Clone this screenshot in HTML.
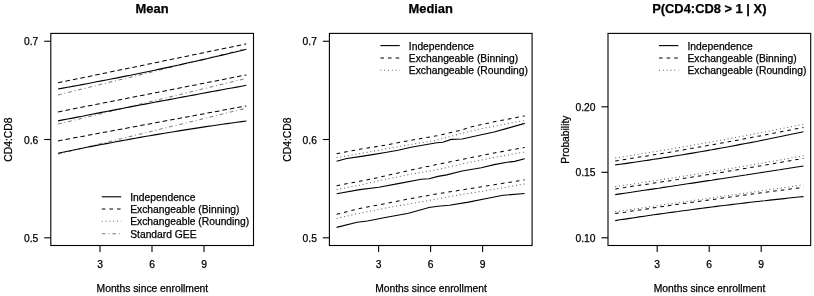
<!DOCTYPE html>
<html lang="en"><head><meta charset="utf-8"><title>Figure</title>
<style>html,body{margin:0;padding:0;background:#fff;}svg{display:block;}text{stroke:#000;stroke-width:.25px;}</style>
</head><body>
<svg width="814" height="296" viewBox="0 0 814 296" font-family="'Liberation Sans', Arial, Helvetica, sans-serif" font-size="10.3" fill="#000">
<rect width="814" height="296" fill="#fff"/>
<rect x="50.80" y="33.4" width="202.70" height="212.10" fill="none" stroke="#000" stroke-width="1.1"/>
<line x1="100.0" y1="245.5" x2="100.0" y2="252.10" stroke="#000" stroke-width="1.1"/>
<text x="100.0" y="267.8" text-anchor="middle">3</text>
<line x1="152.0" y1="245.5" x2="152.0" y2="252.10" stroke="#000" stroke-width="1.1"/>
<text x="152.0" y="267.8" text-anchor="middle">6</text>
<line x1="204.0" y1="245.5" x2="204.0" y2="252.10" stroke="#000" stroke-width="1.1"/>
<text x="204.0" y="267.8" text-anchor="middle">9</text>
<line x1="44.2" y1="41.25" x2="50.8" y2="41.25" stroke="#000" stroke-width="1.1"/>
<text x="38.3" y="45.2" text-anchor="end">0.7</text>
<line x1="44.2" y1="139.5" x2="50.8" y2="139.5" stroke="#000" stroke-width="1.1"/>
<text x="38.3" y="143.5" text-anchor="end">0.6</text>
<line x1="44.2" y1="237.8" x2="50.8" y2="237.8" stroke="#000" stroke-width="1.1"/>
<text x="38.3" y="241.8" text-anchor="end">0.5</text>
<text x="152.4" y="292.3" text-anchor="middle">Months since enrollment</text>
<text transform="translate(12.2,139.6) rotate(-90)" text-anchor="middle">CD4:CD8</text>
<text x="152.1" y="13" text-anchor="middle" font-weight="bold" font-size="12.9" stroke="none">Mean</text>
<polyline points="101.8,196.8 121.2,196.8" fill="none" stroke="#000" stroke-width="1.12"/>
<text x="130.2" y="200.8">Independence</text>
<polyline points="101.8,209.1 121.2,209.1" fill="none" stroke="#000" stroke-width="1.02" stroke-dasharray="3.6 4"/>
<text x="130.2" y="213.2">Exchangeable (Binning)</text>
<polyline points="101.8,221.3 121.2,221.3" fill="none" stroke="#606060" stroke-width="1.05" stroke-dasharray="1 2.8"/>
<text x="130.2" y="225.4">Exchangeable (Rounding)</text>
<polyline points="101.8,233.7 121.2,233.7" fill="none" stroke="#808080" stroke-width="1.05" stroke-dasharray="3.8 2.8 1 2.8"/>
<text x="130.2" y="237.8">Standard GEE</text>
<polyline points="58.0,94.9 246.3,48.8" fill="none" stroke="#808080" stroke-width="1.05" stroke-dasharray="3.8 2.8 1 2.8"/>
<polyline points="58.0,82.8 246.3,43.9" fill="none" stroke="#000" stroke-width="1.02" stroke-dasharray="4.6 3"/>
<polyline points="58.0,89.0 62.8,88.1 67.7,87.2 72.5,86.4 77.3,85.5 82.2,84.6 87.0,83.7 91.8,82.8 96.6,81.8 101.5,80.9 106.3,80.0 111.1,79.0 116.0,78.1 120.8,77.1 125.6,76.1 130.5,75.2 135.3,74.2 140.1,73.2 145.0,72.2 149.8,71.2 154.6,70.2 159.4,69.1 164.3,68.1 169.1,67.1 173.9,66.0 178.8,65.0 183.6,63.9 188.4,62.8 193.3,61.7 198.1,60.7 202.9,59.6 207.8,58.5 212.6,57.3 217.4,56.2 222.2,55.1 227.1,54.0 231.9,52.8 236.7,51.7 241.6,50.5 246.4,49.3" fill="none" stroke="#000" stroke-width="1.12"/>
<polyline points="58.0,124.1 246.3,78.4" fill="none" stroke="#808080" stroke-width="1.05" stroke-dasharray="3.8 2.8 1 2.8"/>
<polyline points="58.0,111.9 246.3,74.9" fill="none" stroke="#000" stroke-width="1.02" stroke-dasharray="4.6 3"/>
<polyline points="58.0,120.9 62.8,119.9 67.7,119.0 72.5,118.1 77.3,117.1 82.2,116.2 87.0,115.2 91.8,114.3 96.6,113.4 101.5,112.4 106.3,111.5 111.1,110.6 116.0,109.6 120.8,108.7 125.6,107.8 130.5,106.9 135.3,105.9 140.1,105.0 145.0,104.1 149.8,103.2 154.6,102.3 159.4,101.4 164.3,100.5 169.1,99.6 173.9,98.7 178.8,97.8 183.6,96.9 188.4,96.0 193.3,95.1 198.1,94.2 202.9,93.3 207.8,92.4 212.6,91.5 217.4,90.6 222.2,89.7 227.1,88.8 231.9,88.0 236.7,87.1 241.6,86.2 246.4,85.3" fill="none" stroke="#000" stroke-width="1.12"/>
<polyline points="58.0,154.1 246.3,108.2" fill="none" stroke="#808080" stroke-width="1.05" stroke-dasharray="3.8 2.8 1 2.8"/>
<polyline points="58.0,140.9 246.3,105.9" fill="none" stroke="#000" stroke-width="1.02" stroke-dasharray="4.6 3"/>
<polyline points="58.0,153.2 62.8,152.2 67.7,151.2 72.5,150.2 77.3,149.3 82.2,148.3 87.0,147.3 91.8,146.4 96.6,145.4 101.5,144.5 106.3,143.6 111.1,142.7 116.0,141.8 120.8,140.9 125.6,140.0 130.5,139.1 135.3,138.2 140.1,137.4 145.0,136.5 149.8,135.7 154.6,134.9 159.4,134.1 164.3,133.3 169.1,132.5 173.9,131.7 178.8,130.9 183.6,130.1 188.4,129.4 193.3,128.6 198.1,127.9 202.9,127.1 207.8,126.4 212.6,125.7 217.4,125.0 222.2,124.3 227.1,123.6 231.9,123.0 236.7,122.3 241.6,121.6 246.4,121.0" fill="none" stroke="#000" stroke-width="1.12"/>
<rect x="329.40" y="33.4" width="202.70" height="212.10" fill="none" stroke="#000" stroke-width="1.1"/>
<line x1="378.6" y1="245.5" x2="378.6" y2="252.10" stroke="#000" stroke-width="1.1"/>
<text x="378.6" y="267.8" text-anchor="middle">3</text>
<line x1="430.6" y1="245.5" x2="430.6" y2="252.10" stroke="#000" stroke-width="1.1"/>
<text x="430.6" y="267.8" text-anchor="middle">6</text>
<line x1="482.6" y1="245.5" x2="482.6" y2="252.10" stroke="#000" stroke-width="1.1"/>
<text x="482.6" y="267.8" text-anchor="middle">9</text>
<line x1="322.8" y1="41.25" x2="329.4" y2="41.25" stroke="#000" stroke-width="1.1"/>
<text x="316.9" y="45.2" text-anchor="end">0.7</text>
<line x1="322.8" y1="139.5" x2="329.4" y2="139.5" stroke="#000" stroke-width="1.1"/>
<text x="316.9" y="143.5" text-anchor="end">0.6</text>
<line x1="322.8" y1="237.8" x2="329.4" y2="237.8" stroke="#000" stroke-width="1.1"/>
<text x="316.9" y="241.8" text-anchor="end">0.5</text>
<text x="431.0" y="292.3" text-anchor="middle">Months since enrollment</text>
<text transform="translate(290.8,139.6) rotate(-90)" text-anchor="middle">CD4:CD8</text>
<text x="430.7" y="13" text-anchor="middle" font-weight="bold" font-size="12.9" stroke="none">Median</text>
<polyline points="380.4,45.6 399.8,45.6" fill="none" stroke="#000" stroke-width="1.12"/>
<text x="408.8" y="49.7">Independence</text>
<polyline points="380.4,57.9 399.8,57.9" fill="none" stroke="#000" stroke-width="1.02" stroke-dasharray="3.6 4"/>
<text x="408.8" y="62.0">Exchangeable (Binning)</text>
<polyline points="380.4,70.2 399.8,70.2" fill="none" stroke="#606060" stroke-width="1.05" stroke-dasharray="1 2.8"/>
<text x="408.8" y="74.3">Exchangeable (Rounding)</text>
<polyline points="336.6,157.6 359.7,153.7 385.3,149.0 411.0,144.4 436.7,140.3 462.0,133.2 481.3,128.7 507.0,123.6 524.7,120.5" fill="none" stroke="#606060" stroke-width="1.05" stroke-dasharray="1 2.8"/>
<polyline points="336.6,153.7 359.7,149.3 385.3,145.1 411.0,140.3 436.7,135.8 462.0,130.0 468.5,127.5 494.2,121.7 524.7,116.0" fill="none" stroke="#000" stroke-width="1.02" stroke-dasharray="3.6 4"/>
<polyline points="336.6,161.2 346.8,158.5 359.7,156.6 372.5,154.6 385.3,152.5 398.2,150.2 411.0,147.3 423.9,145.0 436.7,142.8 442.8,142.2 451.2,139.4 462.1,139.0 481.3,134.8 494.2,132.0 507.0,128.4 524.7,123.4" fill="none" stroke="#000" stroke-width="1.12"/>
<polyline points="336.6,189.6 359.7,185.1 385.3,179.3 411.0,174.2 436.7,169.7 462.0,164.0 494.2,157.5 524.7,152.0" fill="none" stroke="#606060" stroke-width="1.05" stroke-dasharray="1 2.8"/>
<polyline points="336.6,185.7 359.7,181.3 378.9,177.4 398.2,172.9 421.3,167.8 436.7,164.6 462.0,159.5 494.2,153.0 524.7,147.4" fill="none" stroke="#000" stroke-width="1.02" stroke-dasharray="3.6 4"/>
<polyline points="336.6,193.7 359.7,189.6 378.9,187.3 398.2,183.6 421.3,179.3 429.0,178.7 438.0,176.4 446.7,174.9 462.1,171.0 481.3,167.8 494.2,164.6 507.0,162.3 514.7,161.4 524.7,158.8" fill="none" stroke="#000" stroke-width="1.12"/>
<polyline points="336.6,218.4 359.7,213.3 385.3,208.1 411.0,203.6 436.7,199.1 462.0,194.4 494.2,189.3 524.7,183.9" fill="none" stroke="#606060" stroke-width="1.05" stroke-dasharray="1 2.8"/>
<polyline points="336.6,214.3 359.7,208.4 385.3,203.6 411.0,198.5 436.7,194.0 462.0,189.9 494.2,184.8 524.7,179.8" fill="none" stroke="#000" stroke-width="1.02" stroke-dasharray="3.6 4"/>
<polyline points="336.6,227.4 357.1,222.2 367.4,221.0 385.3,217.5 408.5,213.3 429.0,207.5 438.0,206.2 449.3,205.3 468.5,202.1 487.8,198.2 503.2,195.3 524.7,193.5" fill="none" stroke="#000" stroke-width="1.12"/>
<rect x="608.00" y="33.4" width="202.70" height="212.10" fill="none" stroke="#000" stroke-width="1.1"/>
<line x1="657.2" y1="245.5" x2="657.2" y2="252.10" stroke="#000" stroke-width="1.1"/>
<text x="657.2" y="267.8" text-anchor="middle">3</text>
<line x1="709.2" y1="245.5" x2="709.2" y2="252.10" stroke="#000" stroke-width="1.1"/>
<text x="709.2" y="267.8" text-anchor="middle">6</text>
<line x1="761.2" y1="245.5" x2="761.2" y2="252.10" stroke="#000" stroke-width="1.1"/>
<text x="761.2" y="267.8" text-anchor="middle">9</text>
<line x1="601.4" y1="106.8" x2="608.0" y2="106.8" stroke="#000" stroke-width="1.1"/>
<text x="595.5" y="110.8" text-anchor="end">0.20</text>
<line x1="601.4" y1="172.3" x2="608.0" y2="172.3" stroke="#000" stroke-width="1.1"/>
<text x="595.5" y="176.3" text-anchor="end">0.15</text>
<line x1="601.4" y1="237.8" x2="608.0" y2="237.8" stroke="#000" stroke-width="1.1"/>
<text x="595.5" y="241.8" text-anchor="end">0.10</text>
<text x="709.6" y="292.3" text-anchor="middle">Months since enrollment</text>
<text transform="translate(569.4,139.6) rotate(-90)" text-anchor="middle">Probability</text>
<text x="709.3" y="13" text-anchor="middle" font-weight="bold" font-size="12.9" stroke="none">P(CD4:CD8 &gt; 1 | X)</text>
<polyline points="659.0,45.6 678.4,45.6" fill="none" stroke="#000" stroke-width="1.12"/>
<text x="687.4" y="49.7">Independence</text>
<polyline points="659.0,57.9 678.4,57.9" fill="none" stroke="#000" stroke-width="1.02" stroke-dasharray="3.6 4"/>
<text x="687.4" y="62.0">Exchangeable (Binning)</text>
<polyline points="659.0,70.2 678.4,70.2" fill="none" stroke="#606060" stroke-width="1.05" stroke-dasharray="1 2.8"/>
<text x="687.4" y="74.3">Exchangeable (Rounding)</text>
<polyline points="615.2,158.0 620.0,157.3 624.9,156.5 629.7,155.7 634.5,155.0 639.3,154.2 644.2,153.4 649.0,152.6 653.8,151.8 658.7,151.0 663.5,150.2 668.3,149.4 673.1,148.6 678.0,147.8 682.8,147.0 687.6,146.1 692.5,145.3 697.3,144.4 702.1,143.6 706.9,142.7 711.8,141.8 716.6,141.0 721.4,140.1 726.2,139.2 731.1,138.3 735.9,137.4 740.7,136.5 745.6,135.6 750.4,134.7 755.2,133.8 760.0,132.8 764.9,131.9 769.7,131.0 774.5,130.0 779.4,129.1 784.2,128.1 789.0,127.1 793.8,126.2 798.7,125.2 803.5,124.2" fill="none" stroke="#606060" stroke-width="1.05" stroke-dasharray="1 2.8"/>
<polyline points="615.2,160.9 620.0,160.2 624.9,159.4 629.7,158.7 634.5,157.9 639.3,157.1 644.2,156.4 649.0,155.6 653.8,154.8 658.7,154.0 663.5,153.2 668.3,152.4 673.1,151.6 678.0,150.7 682.8,149.9 687.6,149.1 692.5,148.2 697.3,147.4 702.1,146.5 706.9,145.7 711.8,144.8 716.6,144.0 721.4,143.1 726.2,142.2 731.1,141.3 735.9,140.4 740.7,139.5 745.6,138.6 750.4,137.7 755.2,136.8 760.0,135.9 764.9,135.0 769.7,134.0 774.5,133.1 779.4,132.2 784.2,131.2 789.0,130.3 793.8,129.3 798.7,128.3 803.5,127.4" fill="none" stroke="#000" stroke-width="1.02" stroke-dasharray="3.6 4"/>
<polyline points="615.2,164.9 620.0,164.3 624.9,163.6 629.7,162.9 634.5,162.2 639.3,161.5 644.2,160.8 649.0,160.1 653.8,159.3 658.7,158.6 663.5,157.8 668.3,157.1 673.1,156.3 678.0,155.5 682.8,154.7 687.6,153.9 692.5,153.1 697.3,152.3 702.1,151.5 706.9,150.6 711.8,149.8 716.6,148.9 721.4,148.0 726.2,147.2 731.1,146.3 735.9,145.4 740.7,144.4 745.6,143.5 750.4,142.6 755.2,141.7 760.0,140.7 764.9,139.7 769.7,138.8 774.5,137.8 779.4,136.8 784.2,135.8 789.0,134.8 793.8,133.8 798.7,132.7 803.5,131.7" fill="none" stroke="#000" stroke-width="1.12"/>
<polyline points="615.2,186.6 620.0,185.9 624.9,185.2 629.7,184.5 634.5,183.8 639.3,183.1 644.2,182.3 649.0,181.6 653.8,180.8 658.7,180.1 663.5,179.4 668.3,178.6 673.1,177.8 678.0,177.1 682.8,176.3 687.6,175.5 692.5,174.8 697.3,174.0 702.1,173.2 706.9,172.4 711.8,171.6 716.6,170.8 721.4,170.0 726.2,169.2 731.1,168.4 735.9,167.6 740.7,166.8 745.6,166.0 750.4,165.1 755.2,164.3 760.0,163.5 764.9,162.6 769.7,161.8 774.5,161.0 779.4,160.1 784.2,159.2 789.0,158.4 793.8,157.5 798.7,156.7 803.5,155.8" fill="none" stroke="#606060" stroke-width="1.05" stroke-dasharray="1 2.8"/>
<polyline points="615.2,188.9 620.0,188.2 624.9,187.5 629.7,186.7 634.5,186.0 639.3,185.3 644.2,184.6 649.0,183.9 653.8,183.1 658.7,182.4 663.5,181.6 668.3,180.9 673.1,180.1 678.0,179.4 682.8,178.6 687.6,177.9 692.5,177.1 697.3,176.3 702.1,175.6 706.9,174.8 711.8,174.0 716.6,173.2 721.4,172.4 726.2,171.6 731.1,170.8 735.9,170.0 740.7,169.2 745.6,168.4 750.4,167.6 755.2,166.7 760.0,165.9 764.9,165.1 769.7,164.3 774.5,163.4 779.4,162.6 784.2,161.7 789.0,160.9 793.8,160.0 798.7,159.2 803.5,158.3" fill="none" stroke="#000" stroke-width="1.02" stroke-dasharray="3.6 4"/>
<polyline points="615.2,194.6 620.0,193.9 624.9,193.2 629.7,192.5 634.5,191.7 639.3,191.0 644.2,190.3 649.0,189.6 653.8,188.9 658.7,188.2 663.5,187.4 668.3,186.7 673.1,186.0 678.0,185.3 682.8,184.5 687.6,183.8 692.5,183.1 697.3,182.4 702.1,181.6 706.9,180.9 711.8,180.2 716.6,179.4 721.4,178.7 726.2,178.0 731.1,177.2 735.9,176.5 740.7,175.7 745.6,175.0 750.4,174.2 755.2,173.5 760.0,172.8 764.9,172.0 769.7,171.3 774.5,170.5 779.4,169.8 784.2,169.0 789.0,168.3 793.8,167.5 798.7,166.7 803.5,166.0" fill="none" stroke="#000" stroke-width="1.12"/>
<polyline points="615.2,211.8 620.0,211.1 624.9,210.4 629.7,209.7 634.5,209.0 639.3,208.3 644.2,207.6 649.0,206.9 653.8,206.2 658.7,205.5 663.5,204.8 668.3,204.1 673.1,203.4 678.0,202.7 682.8,202.0 687.6,201.3 692.5,200.6 697.3,199.9 702.1,199.3 706.9,198.6 711.8,197.9 716.6,197.2 721.4,196.5 726.2,195.8 731.1,195.1 735.9,194.4 740.7,193.7 745.6,193.1 750.4,192.4 755.2,191.7 760.0,191.0 764.9,190.3 769.7,189.6 774.5,189.0 779.4,188.3 784.2,187.6 789.0,186.9 793.8,186.2 798.7,185.6 803.5,184.9" fill="none" stroke="#606060" stroke-width="1.05" stroke-dasharray="1 2.8"/>
<polyline points="615.2,213.6 620.0,212.9 624.9,212.2 629.7,211.4 634.5,210.7 639.3,210.0 644.2,209.3 649.0,208.6 653.8,207.8 658.7,207.1 663.5,206.4 668.3,205.7 673.1,205.0 678.0,204.3 682.8,203.6 687.6,203.0 692.5,202.3 697.3,201.6 702.1,200.9 706.9,200.2 711.8,199.6 716.6,198.9 721.4,198.2 726.2,197.6 731.1,196.9 735.9,196.3 740.7,195.6 745.6,194.9 750.4,194.3 755.2,193.7 760.0,193.0 764.9,192.4 769.7,191.7 774.5,191.1 779.4,190.5 784.2,189.9 789.0,189.2 793.8,188.6 798.7,188.0 803.5,187.4" fill="none" stroke="#000" stroke-width="1.02" stroke-dasharray="3.6 4"/>
<polyline points="615.2,220.6 620.0,219.8 624.9,219.1 629.7,218.4 634.5,217.7 639.3,216.9 644.2,216.2 649.0,215.5 653.8,214.8 658.7,214.1 663.5,213.5 668.3,212.8 673.1,212.1 678.0,211.5 682.8,210.8 687.6,210.2 692.5,209.5 697.3,208.9 702.1,208.2 706.9,207.6 711.8,207.0 716.6,206.4 721.4,205.8 726.2,205.2 731.1,204.6 735.9,204.0 740.7,203.5 745.6,202.9 750.4,202.3 755.2,201.8 760.0,201.2 764.9,200.7 769.7,200.1 774.5,199.6 779.4,199.1 784.2,198.6 789.0,198.0 793.8,197.5 798.7,197.0 803.5,196.6" fill="none" stroke="#000" stroke-width="1.12"/>
</svg>
</body></html>
